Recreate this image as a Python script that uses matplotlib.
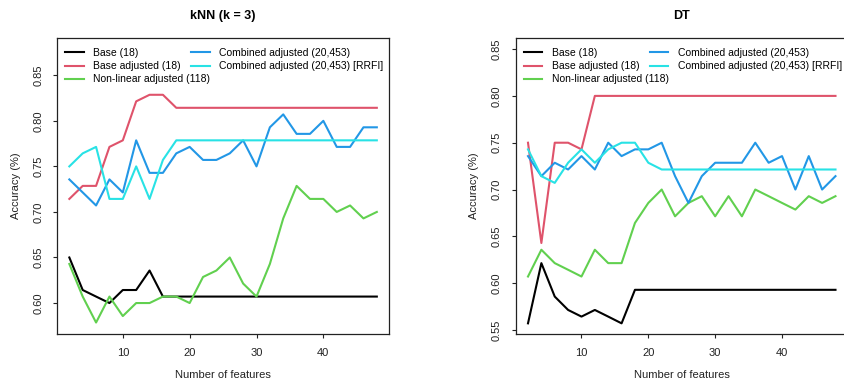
import numpy as np
import matplotlib.pyplot as plt

plt.rcParams['font.family'] = ['Liberation Sans', 'DejaVu Sans']

n_features = list(range(2, 50, 2))

labels = ['Base (18)', 'Base adjusted (18)', 'Non-linear adjusted (118)',
          'Combined adjusted (20,453)', 'Combined adjusted (20,453) [RRFI]']
colors = ['#000000', '#DF536B', '#61D04F', '#2297E6', '#28E2E5']

# kNN (k = 3) accuracies
knn_base = [0.6500, 0.6143, 0.6071, 0.6000, 0.6143, 0.6143, 0.6357, 0.6071,
            0.6071, 0.6071, 0.6071, 0.6071, 0.6071, 0.6071, 0.6071, 0.6071,
            0.6071, 0.6071, 0.6071, 0.6071, 0.6071, 0.6071, 0.6071, 0.6071]
knn_base_adj = [0.7143, 0.7286, 0.7286, 0.7714, 0.7786, 0.8214, 0.8286, 0.8286,
                0.8143, 0.8143, 0.8143, 0.8143, 0.8143, 0.8143, 0.8143, 0.8143,
                0.8143, 0.8143, 0.8143, 0.8143, 0.8143, 0.8143, 0.8143, 0.8143]
knn_nonlin = [0.6429, 0.6071, 0.5786, 0.6071, 0.5857, 0.6000, 0.6000, 0.6071,
              0.6071, 0.6000, 0.6286, 0.6357, 0.6500, 0.6214, 0.6071, 0.6429,
              0.6929, 0.7286, 0.7143, 0.7143, 0.7000, 0.7071, 0.6929, 0.7000]
knn_comb = [0.7357, 0.7214, 0.7071, 0.7357, 0.7214, 0.7786, 0.7429, 0.7429,
            0.7643, 0.7714, 0.7571, 0.7571, 0.7643, 0.7786, 0.7500, 0.7929,
            0.8071, 0.7857, 0.7857, 0.8000, 0.7714, 0.7714, 0.7929, 0.7929]
knn_rrfi = [0.7500, 0.7643, 0.7714, 0.7143, 0.7143, 0.7500, 0.7143, 0.7571,
            0.7786, 0.7786, 0.7786, 0.7786, 0.7786, 0.7786, 0.7786, 0.7786,
            0.7786, 0.7786, 0.7786, 0.7786, 0.7786, 0.7786, 0.7786, 0.7786]

# DT accuracies
dt_base = [0.5571, 0.6214, 0.5857, 0.5714, 0.5643, 0.5714, 0.5643, 0.5571,
           0.5929, 0.5929, 0.5929, 0.5929, 0.5929, 0.5929, 0.5929, 0.5929,
           0.5929, 0.5929, 0.5929, 0.5929, 0.5929, 0.5929, 0.5929, 0.5929]
dt_base_adj = [0.7500, 0.6429, 0.7500, 0.7500, 0.7429, 0.8000, 0.8000, 0.8000,
               0.8000, 0.8000, 0.8000, 0.8000, 0.8000, 0.8000, 0.8000, 0.8000,
               0.8000, 0.8000, 0.8000, 0.8000, 0.8000, 0.8000, 0.8000, 0.8000]
dt_nonlin = [0.6071, 0.6357, 0.6214, 0.6143, 0.6071, 0.6357, 0.6214, 0.6214,
             0.6643, 0.6857, 0.7000, 0.6714, 0.6857, 0.6929, 0.6714, 0.6929,
             0.6714, 0.7000, 0.6929, 0.6857, 0.6786, 0.6929, 0.6857, 0.6929]
dt_comb = [0.7357, 0.7143, 0.7286, 0.7214, 0.7357, 0.7214, 0.7500, 0.7357,
           0.7429, 0.7429, 0.7500, 0.7143, 0.6857, 0.7143, 0.7286, 0.7286,
           0.7286, 0.7500, 0.7286, 0.7357, 0.7000, 0.7357, 0.7000, 0.7143]
dt_rrfi = [0.7429, 0.7143, 0.7071, 0.7286, 0.7429, 0.7286, 0.7429, 0.7500,
           0.7500, 0.7286, 0.7214, 0.7214, 0.7214, 0.7214, 0.7214, 0.7214,
           0.7214, 0.7214, 0.7214, 0.7214, 0.7214, 0.7214, 0.7214, 0.7214]

panels = [
    ('kNN (k = 3)', [knn_base, knn_base_adj, knn_nonlin, knn_comb, knn_rrfi],
     [0.60, 0.65, 0.70, 0.75, 0.80, 0.85], (0.566, 0.8909), 0.0675),
    ('DT', [dt_base, dt_base_adj, dt_nonlin, dt_comb, dt_rrfi],
     [0.55, 0.60, 0.65, 0.70, 0.75, 0.80, 0.85], (0.5457, 0.8618), 0.6103),
]

fig = plt.figure(figsize=(8.45, 3.83), dpi=100)

for title, series, yticks, ylim, left in panels:
    ax = fig.add_axes([left, 0.1279, 0.393, 0.7728])
    handles = []
    for vals, col, lab in zip(series, colors, labels):
        h, = ax.plot(n_features, vals, color=col, lw=1.5, label=lab)
        handles.append(h)

    ax.set_xlim(0.16, 49.84)
    ax.set_ylim(*ylim)
    ax.set_xticks([10, 20, 30, 40])
    ax.set_yticks(yticks)
    ax.set_yticklabels(['%.2f' % t for t in yticks], rotation=90, va='center')
    ax.tick_params(length=3, width=0.8, pad=7, labelsize=8, colors='#222222')
    for sp in ax.spines.values():
        sp.set_linewidth(0.9)
        sp.set_color('#222222')

    ax.set_title(title, fontsize=9, fontweight='bold', pad=14)
    ax.set_xlabel('Number of features', fontsize=8, labelpad=9, color='#222222')
    ax.set_ylabel('Accuracy (%)', fontsize=8, labelpad=9, color='#222222')

    # legend split into two independent columns
    opts = dict(loc='upper left', frameon=False, fontsize=7.5, borderpad=0,
                borderaxespad=0, handlelength=1.8, handletextpad=0.9,
                labelspacing=0.3)
    leg1 = ax.legend(handles[:3], labels[:3], bbox_to_anchor=(0.024, 0.966), **opts)
    ax.add_artist(leg1)
    ax.legend(handles[3:], labels[3:], bbox_to_anchor=(0.403, 0.966), **opts)

plt.savefig('out.png', dpi=100)
